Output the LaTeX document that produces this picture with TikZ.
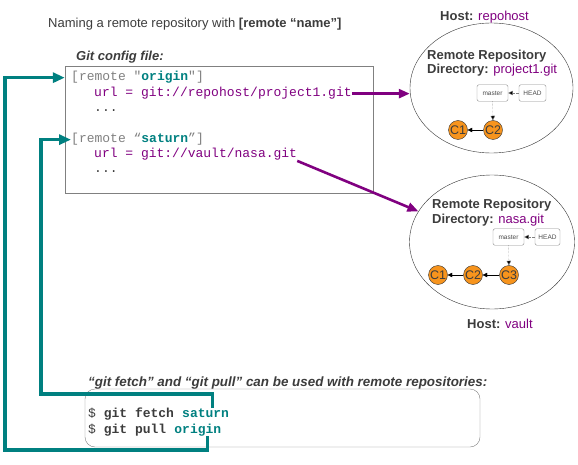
\documentclass[tikz,border=0pt]{standalone}
\usepackage{fontspec}
\setmainfont{Liberation Sans}
\setsansfont{Liberation Sans}
\setmonofont{Liberation Mono}
\usetikzlibrary{positioning, arrows.meta, shapes.geometric}

\definecolor{gitteal}{RGB}{0,128,128}
\definecolor{gitpurple}{RGB}{128,0,128}
\definecolor{commitorange}{RGB}{247,148,29}
\definecolor{textgray}{RGB}{60,60,60}
\definecolor{boxgray}{RGB}{128,128,128}

\begin{document}
\begin{tikzpicture}[
    % GLOBAL CFG
    x=1pt, y=-1pt,
    font=\sffamily\fontsize{13}{15}\selectfont,
    >=Triangle,
    % Styles
    heading/.style={% For the italic captions
        anchor=base west,
        inner sep=0pt,
        text=textgray,
        font=\sffamily\bfseries\itshape\fontsize{13}{15}\selectfont
        },
    codeline/.style={% For lines of the config file
        anchor=base west,
        inner sep=0pt,
        font=\ttfamily\fontsize{13}{15}\selectfont
        },
    cmdline/.style={% For shell commands
        anchor=base west,
        inner sep=0pt,
        text=textgray,
        font=\ttfamily\bfseries\fontsize{13}{15}\selectfont
        },
    repolabel/.style={% For texts inside the hosts
        anchor=base west,
        inner sep=0pt,
        text=textgray,
        font=\sffamily\bfseries\fontsize{13}{15}\selectfont
        },
    host/.style={% For the remote hosts
        ellipse,
        draw=black!80,
        thin,
        },
    branch/.style={% For master and HEAD
        rectangle,
        rounded corners=2pt,
        draw=black!45,
        fill=white,
        text=black!70,
        font=\sffamily\fontsize{6.5}{7}\selectfont,
        minimum height=16.5pt,
        inner sep=1pt
        },
    commit/.style={% For commits
        circle,
        draw=black!80,
        fill=commitorange,
        text=textgray,
        minimum size=19pt,
        inner sep=0pt,
        font=\sffamily\fontsize{12.5}{13}\selectfont
        },
    pointer/.style={% Dotted refs
        densely dotted,
        draw=black!50,
        -{Triangle[length=4.5pt,width=4.5pt,fill=black]}
        },
    parent/.style={% Commit history
        draw=black,
        -{Triangle[length=4.5pt,width=4.5pt]}
        },
    fetchlink/.style={% Teal links from the commands
        draw=gitteal,
        line width=3.2pt,
        -{Triangle[length=12pt,width=10pt]}
        },
    urllink/.style={% Purple links to the hosts
        draw=gitpurple,
        line width=2.6pt,
        -{Triangle[length=11pt,width=9pt]}
        },
    ]
\useasboundingbox (0,0) rectangle (578,465);

%Start drawing the thing...
    % Title
    \node[anchor=base west, inner sep=0pt, text=textgray, font=\sffamily\fontsize{13}{15}\selectfont]
        (title) at (48,28) {Naming a remote repository with \textbf{[remote “name”]}};

    % Draw the config file
    \node[heading] (cfghead) at (76,61) {Git config file:};
    \node[draw=boxgray, minimum width=308pt, minimum height=127pt] (config) at (219,129.5) {};

    \node[codeline] (cfgorigin) at (71,81)
        {\textcolor{boxgray}{[remote "}\textcolor{gitteal}{\textbf{origin}}\textcolor{boxgray}{"]}};
    \node[codeline, text=gitpurple] (url1) at (94,97) {url = git://repohost/project1.git};
    \node[codeline, text=textgray] (dots1) at (94,112) {...};
    \node[codeline] (cfgsaturn) at (71,143)
        {\textcolor{boxgray}{[remote “}\textcolor{gitteal}{\textbf{saturn}}\textcolor{boxgray}{”]}};
    \node[codeline, text=gitpurple] (url2) at (94,158) {url = git://vault/nasa.git};
    \node[codeline, text=textgray] (dots2) at (94,173) {...};

    % Draw the first host
    \node[host, minimum width=163pt, minimum height=130pt] (repo1) at (491.5,88) {};
    \node[repolabel] (host1) at (440,21) {Host: \textcolor{gitpurple}{\mdseries repohost}};
    \node[repolabel] (title1) at (427,60) {Remote Repository};
    \node[repolabel] (dir1) at (427,74) {Directory: \textcolor{gitpurple}{\mdseries project1.git}};
    \node[branch, minimum width=31pt] (master1) at (492.5,93) {master};
    \node[branch, minimum width=27pt] (head1) at (532.5,93) {HEAD};
    \node[commit] (c1a) at (458,130) {C1};
    \node[commit] (c2a) at (493,130) {C2};

    % Draw the second host
    \node[host, minimum width=165pt, minimum height=134pt] (repo2) at (492,242) {};
    \node[repolabel] (title2) at (432,208) {Remote Repository};
    \node[repolabel] (dir2) at (432,223) {Directory: \textcolor{gitpurple}{\mdseries nasa.git}};
    \node[repolabel] (host2) at (467,328) {Host: \textcolor{gitpurple}{\mdseries vault}};
    \node[branch, minimum width=31pt] (master2) at (508.5,237) {master};
    \node[branch, minimum width=25pt] (head2) at (547.5,237) {HEAD};
    \node[commit] (c1b) at (438,275) {C1};
    \node[commit] (c2b) at (473,275) {C2};
    \node[commit] (c3b) at (509,275) {C3};

    % Draw the commands
    \node[heading, font=\sffamily\bfseries\itshape\fontsize{13.4}{15}\selectfont]
        (cmdhead) at (88,386) {“git fetch” and “git pull” can be used with remote repositories:};
    \node[draw=boxgray, rounded corners=10pt, minimum width=395pt, minimum height=58pt] (cmdbox) at (282.5,418) {};
    \node[cmdline] (fetchcmd) at (88,417) {\mdseries\$ \bfseries git fetch};
    \node[cmdline, text=gitteal, right=7.8pt of fetchcmd.base east, anchor=base west] (fetchword) {saturn};
    \node[cmdline] (pullcmd) at (88,433) {\mdseries\$ \bfseries git pull};
    \node[cmdline, text=gitteal, right=7.8pt of pullcmd.base east, anchor=base west] (pullword) {origin};

% Start connecting all.
    % Refs and history
    \draw[pointer] (head1) -- (master1);
    \draw[pointer] (master1) -- (c2a);
    \draw[parent] (c2a) -- (c1a);
    \draw[pointer] (head2) -- (master2);
    \draw[pointer] (master2) -- (c3b);
    \draw[parent] (c3b) -- (c2b);
    \draw[parent] (c2b) -- (c1b);

    % Urls
    \draw[urllink] (url1.east) -- (url1.east -| repo1.west);
    \draw[urllink] (url2.south east) -- (repo2);

    % Commands to names
    \coordinate (outerbend) at (5,450);
    \coordinate (innerbend) at (41,394);
    \draw[fetchlink] ([xshift=10pt]pullword.south) |- (outerbend) |- (cfgorigin.west -| config.west);
    \draw[fetchlink] ([xshift=7pt]fetchword.north) |- (innerbend) |- (cfgsaturn.west);

\end{tikzpicture}
\end{document}
